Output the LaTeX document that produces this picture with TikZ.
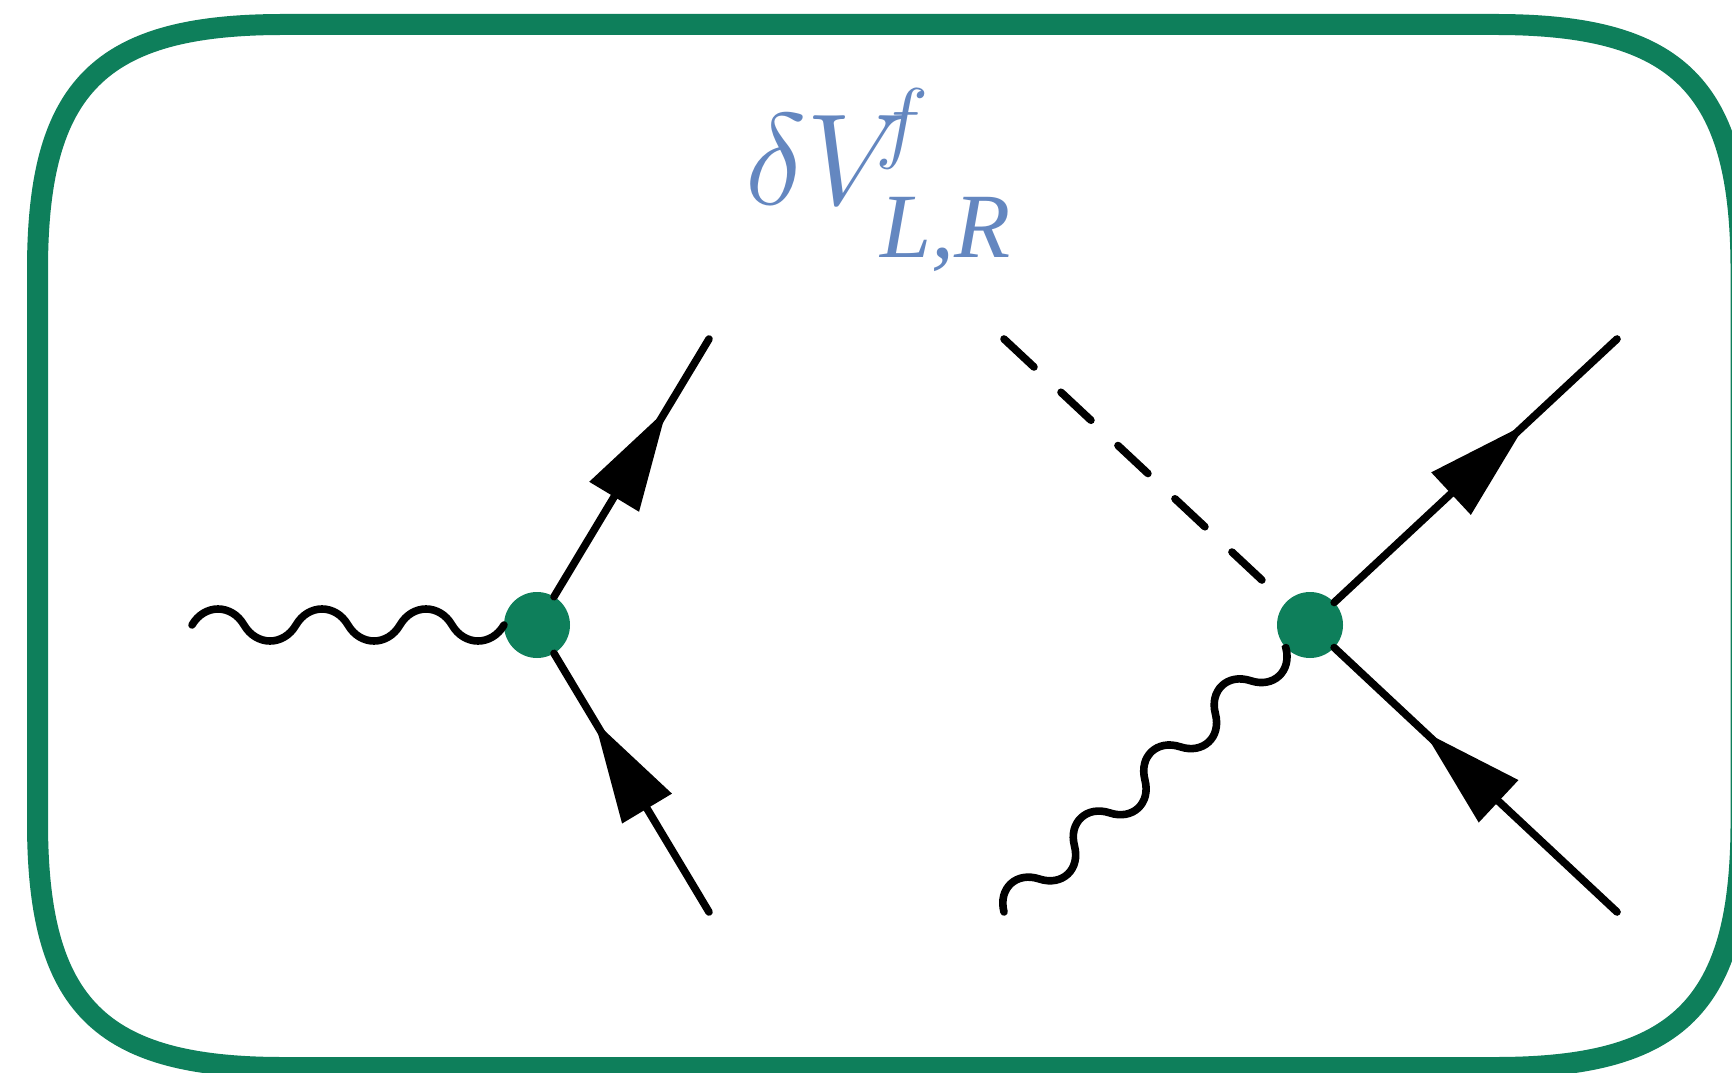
\documentclass[tikz,border=0pt]{standalone}
\usepackage{fontspec}
\setmainfont{Liberation Serif}
\usetikzlibrary{arrows.meta,decorations.markings}
\definecolor{framegreen}{HTML}{0E7F5B}
\definecolor{labelblue}{HTML}{6487C0}
\pgfdeclaredecoration{photonwave}{up}{
  \state{up}[width=+.5\pgfdecorationsegmentlength, next state=down,
             switch if less than=+.25\pgfdecorationsegmentlength to final]{
    \pgfpathcurveto{\pgfqpoint{.12\pgfdecorationsegmentlength}{1.333\pgfdecorationsegmentamplitude}}
                   {\pgfqpoint{.38\pgfdecorationsegmentlength}{1.333\pgfdecorationsegmentamplitude}}
                   {\pgfqpoint{.5\pgfdecorationsegmentlength}{0pt}}
  }
  \state{down}[width=+.5\pgfdecorationsegmentlength, next state=up,
               switch if less than=+.25\pgfdecorationsegmentlength to final]{
    \pgfpathcurveto{\pgfqpoint{.12\pgfdecorationsegmentlength}{-1.333\pgfdecorationsegmentamplitude}}
                   {\pgfqpoint{.38\pgfdecorationsegmentlength}{-1.333\pgfdecorationsegmentamplitude}}
                   {\pgfqpoint{.5\pgfdecorationsegmentlength}{0pt}}
  }
  \state{final}{\pgfpathlineto{\pgfpointdecoratedpathlast}}
}
\begin{document}
\begin{tikzpicture}[
  x=0.5pt, y=0.5pt,
  vertex/.style={circle, fill=framegreen, minimum size=33pt, inner sep=0pt, outer sep=0pt},
  line/.style={line width=3.8pt, line cap=round},
  fermion/.style={line, postaction={decorate},
                  decoration={markings, mark=at position #1 with {\arrow{Triangle[length=51pt,width=28pt]}}}},
  scalar/.style={line, dash pattern=on 20.5pt off 18.5pt},
  photon/.style={line, decorate, decoration={photonwave, amplitude=8pt, segment length=#1}}
]
  \useasboundingbox (0,0) rectangle (1732,1072);
  \fill[white] (0,0) rectangle (1732,1072);
  \draw[framegreen, line width=10.5pt]
    (283,1047.5) -- (1495.5,1047.5) .. controls (1679,1047.5) and (1741,985.5) .. (1741,802)
    -- (1741,250) .. controls (1741,66.5) and (1679,4.5) .. (1495.5,4.5)
    -- (283,4.5) .. controls (99.5,4.5) and (37.5,66.5) .. (37.5,250)
    -- (37.5,802) .. controls (37.5,985.5) and (99.5,1047.5) .. cycle;

  \node[vertex] (vtxl) at (537,447) {};
  \node[vertex] (vtxr) at (1310,447) {};
  \coordinate (photonl) at (192,447);
  \coordinate (outl) at (709,733);
  \coordinate (inl) at (709,160);
  \coordinate (scalarr) at (1004,733);
  \coordinate (photonr) at (1004,160);
  \coordinate (outr) at (1617,733);
  \coordinate (inr) at (1617,160);

  \draw[photon=52pt] (photonl) -- (vtxl);
  \draw[fermion=0.727] (vtxl) -- (outl);
  \draw[fermion=0.738] (inl) -- (vtxl);
  \draw[scalar] (scalarr) -- (vtxr);
  \draw[photon=48.3pt] (photonr) -- (vtxr);
  \draw[fermion=0.677] (vtxr) -- (outr);
  \draw[fermion=0.682] (inr) -- (vtxr);

  \node[text=labelblue, anchor=base west, inner sep=0pt, scale=2.612] (coupling) at (744,867)
    {\Huge $\delta V^{\kern-6.3pt\raisebox{1.3pt}{$\scriptscriptstyle f$}}_{\raisebox{-3.95pt}{\fontsize{17.6}{17.6}\selectfont\itshape L,R}}$};
\end{tikzpicture}
\end{document}
